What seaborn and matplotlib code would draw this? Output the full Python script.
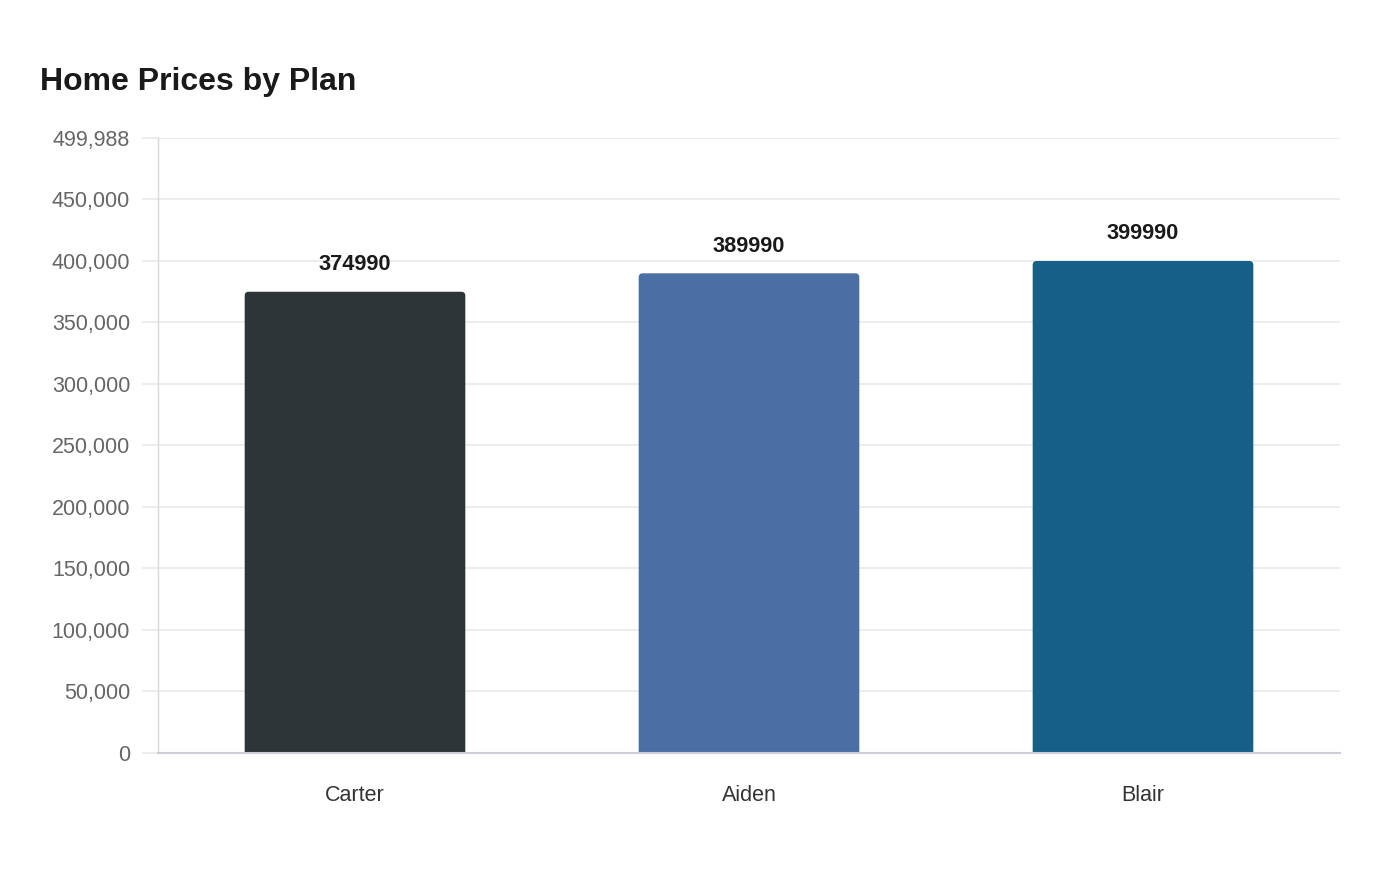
import matplotlib.pyplot as plt
from matplotlib.patches import FancyBboxPatch
import seaborn as sns
import pandas as pd

plans = ["Carter", "Aiden", "Blair"]
prices = [374990, 389990, 399990]
bar_colors = ["#2e3538", "#4a6fa5", "#166088"]
y_ticks = [0, 50000, 100000, 150000, 200000, 250000, 300000, 350000, 400000, 450000, 499988]

df = pd.DataFrame({"plan": plans, "price": prices})

sns.set_theme(style="white")
plt.rcParams["font.family"] = ["Liberation Sans", "DejaVu Sans"]

fig = plt.figure(figsize=(14, 8.8), dpi=100)
ax = fig.add_axes([158 / 1400, 1 - 753 / 880, (1340 - 158) / 1400, (753 - 138) / 880])

sns.barplot(data=df, x="plan", y="price", hue="plan", palette=bar_colors,
            legend=False, width=0.56, saturation=1, ax=ax, zorder=3)

ax.set_ylim(0, 499988)
ax.set_xlim(-0.5, 2.5)

# round the top corners of the bars (bottom corners hidden below the axis)
px_x = 1 / 394.0
px_y = 499988 / 615.0
for p in list(ax.patches):
    x0, y0, w, h = p.get_x(), p.get_y(), p.get_width(), p.get_height()
    fc = p.get_facecolor()
    p.remove()
    rb = FancyBboxPatch((x0, y0 - 10 * px_y), w, h + 10 * px_y,
                        boxstyle=f"round,pad=0,rounding_size={4 * px_x}",
                        mutation_aspect=px_y / px_x, facecolor=fc,
                        edgecolor="none", zorder=3)
    ax.add_patch(rb)
    rb.set_clip_on(True)

ax.set_yticks(y_ticks)
ax.set_yticklabels([f"{v:,}" for v in y_ticks])
ax.grid(axis="y", color="#e9e9e9", linewidth=1.2, zorder=0)
ax.set_axisbelow(True)

ax.tick_params(axis="y", length=11.5, width=1.2, color="#e9e9e9", pad=8.5,
               labelsize=15.5, labelcolor="#666666", left=True)
ax.tick_params(axis="x", length=0, pad=23, labelsize=15.5, labelcolor="#333333")

ax.set_xlabel("")
ax.set_ylabel("")

for s in ["top", "right"]:
    ax.spines[s].set_visible(False)
ax.spines["bottom"].set_color("#ccd0d6")
ax.spines["bottom"].set_linewidth(1.5)
ax.spines["bottom"].set_zorder(4)
ax.spines["left"].set_color("#d8d8d8")
ax.spines["left"].set_linestyle((0, (1, 1)))
ax.spines["left"].set_linewidth(1)

for i, v in enumerate(prices):
    ax.annotate(str(v), (i, v), xytext=(0, 12), textcoords="offset points",
                ha="center", va="bottom", fontsize=15.7, fontweight="bold",
                color="#1a1a1a")

fig.text(40 / 1400, 1 - 82 / 880, "Home Prices by Plan", fontsize=23,
         fontweight="bold", color="#1a1a1a", ha="left", va="center")

fig.savefig("out.png", dpi=100, facecolor="white")
